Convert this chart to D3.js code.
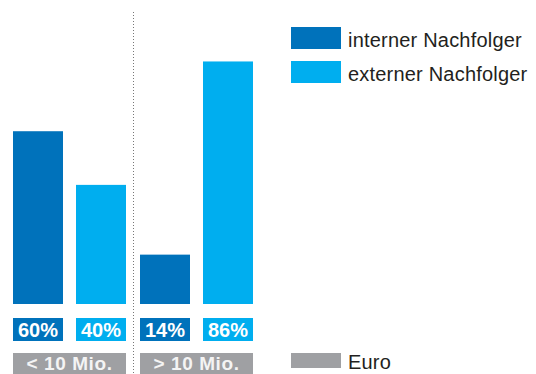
<!DOCTYPE html>
<html><head><meta charset="utf-8">
<script src="https://cdn.jsdelivr.net/npm/d3@7"></script>
<style>body{margin:0;background:#fff}svg{display:block}</style>
</head><body>
<script>
const groups = ["< 10 Mio.", "> 10 Mio."];
const series = ["interner Nachfolger", "externer Nachfolger"];
const values = [[60, 40], [14, 86]];
const unitLabel = "Euro";
const colors = ["#0072BB", "#00AEEF"];
const gray = "#9FA0A3";

const W = 536, H = 374;
const svg = d3.select("body").append("svg").attr("width", W).attr("height", H);
const font = "'Liberation Sans', Arial, Helvetica, sans-serif";

const x0 = d3.scaleBand().domain(groups).range([13, 253]).paddingInner(14 / 127).paddingOuter(0);
const x1 = d3.scaleBand().domain(series).range([0, x0.bandwidth()]).paddingInner(13 / 63).paddingOuter(0);
const baseY = 304;
const y = d3.scaleLinear().domain([-4.4, 100]).range([baseY, 23.9]);

// divider
svg.append("line").attr("x1", 133.5).attr("x2", 133.5).attr("y1", 12).attr("y2", H)
  .attr("stroke", "#777").attr("stroke-width", 1).attr("stroke-dasharray", "1,2");

groups.forEach((g, gi) => {
  const gx = x0(g);
  series.forEach((s, si) => {
    const v = values[gi][si];
    const bx = gx + x1(s), bw = x1.bandwidth();
    svg.append("rect").attr("x", bx).attr("y", y(v)).attr("width", bw).attr("height", baseY - y(v)).attr("fill", colors[si]);
    svg.append("rect").attr("x", bx).attr("y", 318).attr("width", bw).attr("height", 23).attr("fill", colors[si]);
    svg.append("text").attr("x", bx + bw / 2).attr("y", 337).attr("text-anchor", "middle")
      .attr("font-family", font).attr("font-weight", "bold").attr("font-size", 20).attr("fill", "#fff").text(v + "%");
  });
  svg.append("rect").attr("x", gx).attr("y", 353).attr("width", x0.bandwidth()).attr("height", 21).attr("fill", gray);
  svg.append("text").attr("x", gx + x0.bandwidth() / 2).attr("y", 370).attr("text-anchor", "middle")
    .attr("font-family", font).attr("font-weight", "bold").attr("font-size", 19).attr("letter-spacing", 0.6)
    .attr("fill", "#f4f4f4").text(g);
});

// legend
series.forEach((s, i) => {
  const ly = 27 + i * 34;
  svg.append("rect").attr("x", 291).attr("y", ly).attr("width", 50).attr("height", 22).attr("fill", colors[i]);
  svg.append("text").attr("x", 348).attr("y", ly + 20).attr("font-family", font).attr("font-size", 20)
    .attr("letter-spacing", 0.2).attr("fill", "#231f20").text(s);
});
svg.append("rect").attr("x", 291).attr("y", 353).attr("width", 50).attr("height", 15).attr("fill", gray);
svg.append("text").attr("x", 348).attr("y", 369).attr("font-family", font).attr("font-size", 20)
  .attr("letter-spacing", 0.2).attr("fill", "#231f20").text(unitLabel);
</script>
</body></html>
